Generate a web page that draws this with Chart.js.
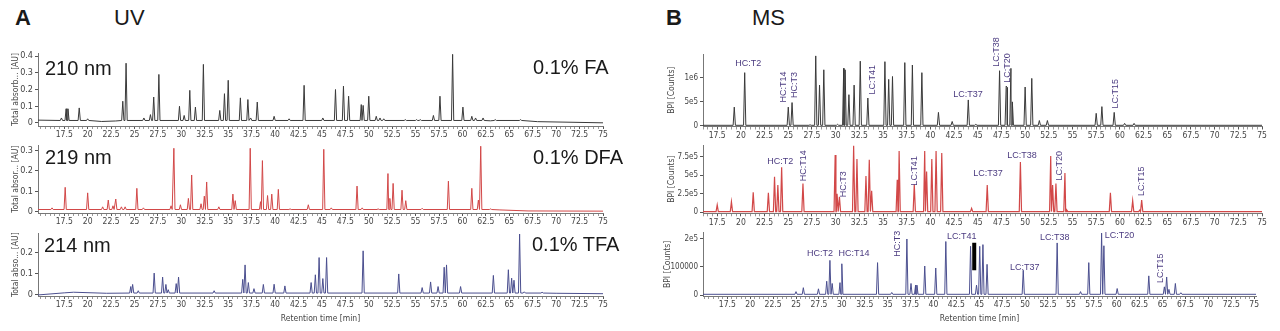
<!DOCTYPE html>
<html>
<head>
<meta charset="utf-8">
<script src="https://cdn.jsdelivr.net/npm/chart.js@4.4.0/dist/chart.umd.min.js"></script>
<style>
body { margin: 0; width: 1280px; height: 331px; background: #fff; position: relative; overflow: hidden; font-family: "Liberation Sans", Arial, sans-serif; }
canvas { position: absolute; }
.txt { position: absolute; color: #1a1a1a; white-space: nowrap; line-height: 1; }
</style>
</head>
<body>
<div class="txt" style="left:15px;top:7px;font-size:22px;font-weight:bold">A</div>
<div class="txt" style="left:114px;top:7px;font-size:22px">UV</div>
<div class="txt" style="left:666px;top:7px;font-size:22px;font-weight:bold">B</div>
<div class="txt" style="left:752px;top:7px;font-size:22px">MS</div>
<canvas id="uvFa"></canvas>
<canvas id="uvDfa"></canvas>
<canvas id="uvTfa"></canvas>
<canvas id="msFa"></canvas>
<canvas id="msDfa"></canvas>
<canvas id="msTfa"></canvas>
<div class="txt" style="left:45px;top:58px;font-size:20px">210 nm</div>
<div class="txt" style="left:533px;top:57px;font-size:20px">0.1% FA</div>
<div class="txt" style="left:45px;top:147px;font-size:20px">219 nm</div>
<div class="txt" style="left:533px;top:147px;font-size:20px">0.1% DFA</div>
<div class="txt" style="left:44px;top:235px;font-size:20px">214 nm</div>
<div class="txt" style="left:532px;top:234px;font-size:20px">0.1% TFA</div>
<script>
// retention time axis
var xTickLabels = ['17.5', '20', '22.5', '25', '27.5', '30', '32.5', '35', '37.5', '40', '42.5', '45', '47.5', '50', '52.5', '55', '57.5', '60', '62.5', '65', '67.5', '70', '72.5', '75'];
var minorStep = 0.5;

// UV traces: peaks [time, absorbance], baseline level and baseline knots
var uvFaPeaks = [[17.2, 0.03], [17.7, 0.085], [17.9, 0.085], [19.1, 0.09], [20.0, 0.025], [23.75, 0.13], [24.1, 0.357], [26.0, 0.03], [26.7, 0.05], [27.05, 0.155], [27.6, 0.29], [29.8, 0.1], [30.3, 0.045], [30.9, 0.195], [31.5, 0.095], [32.35, 0.35], [34.1, 0.075], [34.6, 0.175], [35.0, 0.255], [36.3, 0.15], [37.1, 0.14], [37.4, 0.03], [38.1, 0.125], [39.9, 0.04], [41.5, 0.025], [43.1, 0.225], [45.1, 0.03], [46.45, 0.2], [47.3, 0.22], [47.85, 0.16], [49.2, 0.11], [49.4, 0.105], [50.0, 0.16], [50.8, 0.04], [51.2, 0.03], [51.6, 0.025], [53.9, 0.02], [55.1, 0.02], [55.5, 0.02], [56.9, 0.045], [57.6, 0.16], [58.95, 0.41], [60.05, 0.095], [61.0, 0.04], [61.4, 0.03], [62.2, 0.03], [63.5, 0.02], [66.2, 0.02]];
var uvFaBase = 0.015;
var uvFaKnots = [[14.7, 0.017], [21.5, 0.009], [23.0, 0.012], [63.0, 0.013], [68.0, 0.008], [75.0, 0.001]];
var uvFaTicks = [0, 0.1, 0.2, 0.3, 0.4];
var uvFaTickLabels = ['0', '0.1', '0.2', '0.3', '0.4'];

var uvDfaPeaks = [[16.2, 0.02], [17.6, 0.12], [20.0, 0.093], [21.6, 0.025], [22.2, 0.058], [22.7, 0.03], [23.0, 0.063], [23.6, 0.025], [24.0, 0.025], [25.25, 0.115], [25.95, 0.02], [28.9, 0.03], [29.2, 0.31], [29.9, 0.035], [30.75, 0.066], [31.1, 0.18], [32.1, 0.04], [32.45, 0.077], [32.7, 0.146], [34.0, 0.025], [35.5, 0.087], [35.75, 0.055], [37.35, 0.31], [38.45, 0.05], [38.65, 0.25], [39.2, 0.08], [39.65, 0.087], [40.35, 0.11], [41.6, 0.015], [43.55, 0.035], [45.2, 0.305], [46.0, 0.02], [48.75, 0.126], [49.3, 0.02], [51.0, 0.015], [52.05, 0.187], [52.25, 0.066], [52.6, 0.139], [53.55, 0.106], [53.95, 0.055], [55.7, 0.018], [58.5, 0.15], [61.0, 0.115], [61.7, 0.058], [61.95, 0.32], [63.0, 0.015]];
var uvDfaBase = 0.012;
var uvDfaKnots = [[14.7, 0.012], [64.0, 0.01], [67.0, 0.005], [75.0, 0.004]];
var uvDfaTicks = [0, 0.1, 0.2, 0.3];
var uvDfaTickLabels = ['0', '0.1', '0.2', '0.3'];

var uvTfaPeaks = [[24.6, 0.04], [24.8, 0.05], [25.4, 0.02], [27.1, 0.104], [28.0, 0.085], [28.35, 0.05], [28.6, 0.025], [29.45, 0.054], [29.7, 0.085], [33.5, 0.02], [36.55, 0.074], [36.8, 0.143], [37.15, 0.059], [37.75, 0.03], [38.75, 0.05], [39.9, 0.051], [41.05, 0.043], [43.85, 0.059], [44.3, 0.096], [44.7, 0.178], [45.1, 0.078], [45.5, 0.178], [49.4, 0.21], [53.2, 0.1], [55.7, 0.035], [56.6, 0.062], [57.4, 0.04], [58.05, 0.132], [58.3, 0.143], [59.8, 0.04], [63.3, 0.093], [64.9, 0.12], [65.25, 0.08], [65.5, 0.07], [66.1, 0.29], [66.6, 0.015], [68.5, 0.013]];
var uvTfaBase = 0.009;
var uvTfaKnots = [[14.7, 0.0], [17.5, 0.01], [18.5, 0.013], [22.0, 0.008], [70.0, 0.008], [75.0, 0.006]];
var uvTfaTicks = [0, 0.1, 0.2];
var uvTfaTickLabels = ['0', '0.1', '0.2'];

// MS traces: peaks [time, counts]
var msFaPeaks = [[19.3, 390000], [20.4, 1110000], [25.0, 390000], [25.4, 485000], [27.3, 20000], [27.9, 1460000], [28.3, 850000], [28.75, 1170000], [30.2, 30000], [30.85, 1200000], [31.0, 1170000], [31.4, 650000], [31.95, 850000], [32.6, 1350000], [33.4, 580000], [35.2, 1340000], [35.6, 970000], [36.0, 1030000], [37.3, 1320000], [38.1, 1270000], [39.1, 1110000], [40.85, 280000], [42.3, 90000], [44.0, 540000], [44.8, 30000], [47.3, 1150000], [48.0, 830000], [48.1, 800000], [48.5, 1200000], [48.65, 500000], [50.0, 810000], [50.7, 990000], [51.5, 110000], [52.35, 110000], [57.5, 260000], [58.1, 400000], [59.4, 280000], [60.5, 50000], [61.5, 50000]];
var msFaBase = 10000;
var msFaKnots = [[16.0, 10000], [75.0, 10000]];
var msFaTicks = [0, 500000, 1000000];
var msFaTickLabels = ['0', '5e5', '1e6'];
var msFaLabels = [['HC:T2', 20.77, 1310000, false], ['HC:T14', 24.46, 810000, true], ['HC:T3', 25.7, 850000, true], ['LC:T41', 33.85, 960000, true], ['LC:T37', 43.98, 650000, false], ['LC:T38', 46.93, 1540000, true], ['LC:T20', 48.1, 1210000, true], ['LC:T15', 59.5, 670000, true]];

var msDfaPeaks = [[17.5, 100000], [19.0, 143000], [21.3, 270000], [22.9, 265000], [23.55, 480000], [23.9, 370000], [24.3, 610000], [26.55, 390000], [29.95, 775000], [30.15, 250000], [30.4, 210000], [31.9, 900000], [32.25, 720000], [33.2, 490000], [33.55, 710000], [33.8, 290000], [36.5, 440000], [36.7, 830000], [38.3, 380000], [39.4, 830000], [39.6, 550000], [40.15, 720000], [40.6, 830000], [41.2, 800000], [44.35, 54000], [46.0, 370000], [49.5, 680000], [52.7, 760000], [52.9, 370000], [53.25, 390000], [54.2, 530000], [54.4, 30000], [59.0, 265000], [61.35, 157000], [62.1, 30000], [62.3, 166000]];
var msDfaBase = 9000;
var msDfaKnots = [[16.0, 9000], [75.0, 9000]];
var msDfaTicks = [0, 250000, 500000, 750000];
var msDfaTickLabels = ['0', '2.5e5', '5e5', '7.5e5'];
var msDfaLabels = [['HC:T2', 24.15, 680000, false], ['HC:T14', 26.57, 630000, true], ['HC:T3', 30.79, 380000, true], ['LC:T41', 38.28, 560000, true], ['LC:T37', 46.09, 520000, false], ['LC:T38', 49.67, 770000, false], ['LC:T20', 53.68, 630000, true], ['LC:T15', 62.33, 420000, true]];

var msTfaPeaks = [[25.0, 12000], [25.8, 26000], [27.45, 22000], [28.35, 49000], [28.7, 123000], [28.95, 41000], [29.8, 44000], [30.0, 111000], [33.9, 115000], [35.45, 9000], [37.1, 199000], [37.55, 41000], [38.05, 35000], [38.2, 35000], [39.05, 103000], [40.25, 96000], [41.35, 190000], [44.05, 173000], [44.7, 35000], [45.05, 173000], [45.4, 179000], [45.85, 109000], [49.8, 88000], [53.5, 185000], [56.05, 12000], [56.95, 115000], [58.35, 220000], [58.6, 175000], [60.05, 23000], [63.5, 68000], [65.2, 29000], [65.45, 64000], [65.7, 20000], [66.4, 41000], [67.0, 8000]];
var msTfaBase = 2500;
var msTfaKnots = [[14.85, 2500], [75.2, 2500]];
var msTfaTicks = [0, 100000, 200000];
var msTfaTickLabels = ['0', '100000', '2e5'];
var msTfaLabels = [['HC:T2', 27.63, 147000, false], ['HC:T14', 31.33, 147000, false], ['HC:T3', 36.13, 182000, true], ['LC:T41', 43.1, 207000, false], ['LC:T37', 49.96, 98000, false], ['LC:T38', 53.23, 204000, false], ['LC:T20', 60.3, 210000, false], ['LC:T15', 64.8, 95000, true]];
var msTfaMarker = [[44.45, 88000], [44.45, 186000]];

var narrow = '"Liberation Sans Narrow", "DejaVu Sans Condensed", sans-serif';
var sans = '"Liberation Sans", Arial, sans-serif';
var peakHalf = 0.12;

function trace(peaks, base, knots) {
    var pts = knots.map(function (k) { return { x: k[0], y: k[1] } });
    peaks.forEach(function (p) {
        pts.push({ x: p[0] - peakHalf, y: base }, { x: p[0], y: p[1] }, { x: p[0] + peakHalf, y: base });
    });
    pts.sort(function (a, b) { return a.x - b.x });
    return pts;
}

function labelPlugin(items) {
    return {
        id: 'peptideLabels',
        afterDatasetsDraw: function (chart) {
            var ctx = chart.ctx;
            items.forEach(function (it) {
                var x = chart.scales.x.getPixelForValue(it[1]);
                var y = chart.scales.y.getPixelForValue(it[2]);
                ctx.save();
                ctx.translate(x, y);
                if (it[3]) ctx.rotate(-Math.PI / 2);
                ctx.fillStyle = '#4b3b80';
                ctx.font = '9px ' + sans;
                ctx.textAlign = 'center';
                ctx.textBaseline = 'middle';
                ctx.fillText(it[0], 0, 0);
                ctx.restore();
            });
        }
    };
}

function drawChromatogram(id, c) {
    var canvas = document.getElementById(id);
    canvas.style.left = c.box[0] + 'px';
    canvas.style.top = c.box[1] + 'px';
    canvas.width = c.box[2];
    canvas.height = c.box[3];
    var datasets = [{
        data: trace(c.peaks, c.base, c.knots),
        borderColor: c.color,
        borderWidth: c.lineWidth || 1,
        pointRadius: 0,
        tension: 0,
        fill: false
    }];
    if (c.marker) {
        datasets.push({
            data: c.marker.map(function (m) { return { x: m[0], y: m[1] } }),
            borderColor: '#000',
            borderWidth: 4,
            pointRadius: 0
        });
    }
    new Chart(canvas.getContext('2d'), {
        type: 'line',
        data: { datasets: datasets },
        options: {
            responsive: false,
            animation: false,
            devicePixelRatio: 1,
            layout: { padding: { left: 0, top: c.area[1] - c.box[1], right: c.box[0] + c.box[2] - c.area[2], bottom: 0 } },
            plugins: {
                legend: { display: false },
                tooltip: { enabled: false }
            },
            scales: {
                x: {
                    type: 'linear',
                    min: c.xRange[0],
                    max: c.xRange[1],
                    afterBuildTicks: function (axis) {
                        var ticks = [];
                        for (var v = Math.ceil(axis.min / minorStep) * minorStep; v <= axis.max + 1e-9; v += minorStep) {
                            ticks.push({ value: +v.toFixed(2) });
                        }
                        axis.ticks = ticks;
                    },
                    afterFit: function (s) { s.height = c.box[1] + c.box[3] - c.area[3] },
                    ticks: {
                        autoSkip: false,
                        maxRotation: 0,
                        padding: 1,
                        color: '#444',
                        font: { size: 8.5, family: narrow },
                        callback: function (v) { var s = String(v); return xTickLabels.indexOf(s) >= 0 ? s : '' }
                    },
                    grid: {
                        drawOnChartArea: false,
                        drawTicks: true,
                        tickLength: 3,
                        color: function (ctx) { return ctx.tick && xTickLabels.indexOf(String(ctx.tick.value)) >= 0 ? '#555' : '#999' }
                    },
                    border: { display: true, color: '#777' },
                    title: {
                        display: !!c.xTitle,
                        text: 'Retention time [min]',
                        color: '#444',
                        font: { size: 8.5, family: narrow },
                        padding: { top: 2, bottom: 0 }
                    }
                },
                y: {
                    min: c.yRange[0],
                    max: c.yRange[1],
                    afterBuildTicks: function (axis) {
                        axis.ticks = c.yTicks.map(function (v) { return { value: v } });
                    },
                    afterFit: function (s) { s.width = c.area[0] - c.box[0] },
                    ticks: {
                        padding: 2,
                        color: '#444',
                        font: { size: c.yTickSize || 9, family: narrow },
                        callback: function (v) { var i = c.yTicks.indexOf(v); return i >= 0 ? c.yTickLabels[i] : '' }
                    },
                    grid: { drawOnChartArea: false, drawTicks: true, tickLength: 3, color: '#555' },
                    border: { display: true, color: '#777' },
                    title: {
                        display: true,
                        text: c.yTitle,
                        color: '#444',
                        font: { size: 8.5, family: narrow },
                        padding: { top: c.titlePad, bottom: 0 }
                    }
                }
            }
        },
        plugins: [labelPlugin(c.labels || [])]
    });
}

drawChromatogram('uvFa', {
    box: [0, 40, 620, 100], area: [38, 53, 603, 126],
    xRange: [14.7, 75], yRange: [-0.018, 0.418],
    peaks: uvFaPeaks, base: uvFaBase, knots: uvFaKnots,
    yTicks: uvFaTicks, yTickLabels: uvFaTickLabels,
    yTitle: 'Total absorb... [AU]', titlePad: 11, color: '#3a3a3a'
});
drawChromatogram('uvDfa', {
    box: [0, 138, 620, 92], area: [38, 145, 603, 213],
    xRange: [14.7, 75], yRange: [-0.005, 0.324],
    peaks: uvDfaPeaks, base: uvDfaBase, knots: uvDfaKnots,
    yTicks: uvDfaTicks, yTickLabels: uvDfaTickLabels,
    yTitle: 'Total absor... [AU]', titlePad: 11, color: '#d24848'
});
drawChromatogram('uvTfa', {
    box: [0, 226, 620, 98], area: [38, 232, 603, 296],
    xRange: [14.7, 75], yRange: [-0.005, 0.293],
    peaks: uvTfaPeaks, base: uvTfaBase, knots: uvTfaKnots,
    yTicks: uvTfaTicks, yTickLabels: uvTfaTickLabels,
    yTitle: 'Total abso... [AU]', titlePad: 11, color: '#4b4f8f', xTitle: true
});
drawChromatogram('msFa', {
    box: [640, 28, 640, 117], area: [703, 54, 1262, 126.5],
    xRange: [16.0, 75], yRange: [-15000, 1500000],
    peaks: msFaPeaks, base: msFaBase, knots: msFaKnots,
    yTicks: msFaTicks, yTickLabels: msFaTickLabels, labels: msFaLabels,
    yTickSize: 8, yTitle: 'BPI [Counts]', titlePad: 27, color: '#3a3a3a'
});
drawChromatogram('msDfa', {
    box: [640, 138, 640, 92], area: [703, 145, 1262, 213.3],
    xRange: [16.0, 75], yRange: [-14000, 910000],
    peaks: msDfaPeaks, base: msDfaBase, knots: msDfaKnots,
    yTicks: msDfaTicks, yTickLabels: msDfaTickLabels, labels: msDfaLabels,
    yTickSize: 8, yTitle: 'BPI [Counts]', titlePad: 27, color: '#d24848', lineWidth: 1.2
});
drawChromatogram('msTfa', {
    box: [640, 226, 640, 98], area: [703, 232, 1256, 296],
    xRange: [14.85, 75.2], yRange: [-3500, 221000],
    peaks: msTfaPeaks, base: msTfaBase, knots: msTfaKnots,
    yTicks: msTfaTicks, yTickLabels: msTfaTickLabels, labels: msTfaLabels,
    marker: msTfaMarker, yTickSize: 8,
    yTitle: 'BPI [Counts]', titlePad: 23, color: '#4b4f8f', xTitle: true
});
</script>
</body>
</html>
